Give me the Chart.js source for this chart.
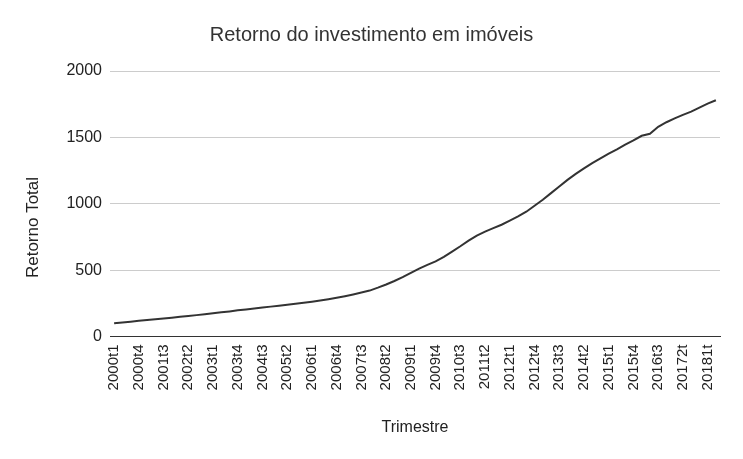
<!DOCTYPE html>
<html>
<head>
<meta charset="utf-8">
<script src="https://cdn.jsdelivr.net/npm/chart.js@4"></script>
<style>
  html, body { margin: 0; padding: 0; background: #fff; }
  #box { width: 743px; height: 459px; }
</style>
</head>
<body>
<div id="box"><canvas id="grafico"></canvas></div>
<script>
// trimestres 2000t1 .. 2018t2 (a partir de 2016t4 o rótulo vem como "AAAAqt")
var anos = [2000, 2001, 2002, 2003, 2004, 2005, 2006, 2007, 2008, 2009,
            2010, 2011, 2012, 2013, 2014, 2015, 2016, 2017, 2018];
var trimestres = [];
anos.forEach(function (a) {
  for (var q = 1; q <= 4; q++) {
    if (a === 2018 && q > 2) break;
    if (a > 2016 || (a === 2016 && q === 4)) trimestres.push(a + '' + q + 't');
    else trimestres.push(a + 't' + q);
  }
});

var retorno = [100, 106, 112, 118, 124, 130, 136, 142, 148, 154,
               161, 168, 175, 182, 189, 197, 204, 211, 218, 225,
               232, 239, 246, 254, 262, 271, 281, 292, 304, 317,
               331, 346, 368, 392, 418, 447, 480, 512, 540, 566,
               600, 640, 680, 722, 760, 790, 816, 842, 873, 905,
               940, 985, 1030, 1080, 1130, 1180, 1225, 1266, 1306, 1342,
               1377, 1410, 1445, 1477, 1512, 1527, 1580, 1614, 1643, 1670,
               1694, 1724, 1754, 1780];

var ticksY = [0, 500, 1000, 1500, 2000];

var fonte = 'Liberation Sans, Arial, sans-serif';

// título do eixo Y (o original fica um pouco abaixo do centro da área)
var tituloY = {
  id: 'tituloY',
  afterDraw: function (chart) {
    var c = chart.ctx;
    c.save();
    c.translate(33, 227.5);
    c.rotate(-Math.PI / 2);
    c.fillStyle = '#222222';
    c.font = '17px ' + fonte;
    c.textAlign = 'center';
    c.textBaseline = 'middle';
    c.fillText('Retorno Total', 0, 0);
    c.restore();
  }
};

var ctx = document.getElementById('grafico').getContext('2d');
var grafico = new Chart(ctx, {
  type: 'line',
  data: {
    labels: trimestres,
    datasets: [{
      label: 'Retorno Total',
      data: retorno,
      borderColor: '#333333',
      borderWidth: 2,
      pointRadius: 0,
      tension: 0,
      fill: false
    }]
  },
  plugins: [tituloY],
  options: {
    responsive: true,
    maintainAspectRatio: false,
    animation: false,
    layout: { padding: 0 },
    plugins: {
      legend: { display: false },
      tooltip: { enabled: false },
      title: {
        display: true,
        text: 'Retorno do investimento em imóveis',
        color: '#333333',
        font: { family: fonte, size: 20, weight: 'normal' },
        padding: { top: 23, bottom: 24 }
      }
    },
    scales: {
      x: {
        type: 'category',
        offset: true,
        afterFit: function (s) { s.height = 122.5; },
        grid: { display: false, drawTicks: false },
        border: { display: true, color: '#333333', width: 1 },
        ticks: {
          autoSkip: false,
          maxRotation: 90,
          minRotation: 90,
          padding: 8,
          color: '#222222',
          font: { family: fonte, size: 15 },
          callback: function (v, i) { return i % 3 === 0 ? this.getLabelForValue(v) : ''; }
        },
        title: {
          display: true,
          text: 'Trimestre',
          color: '#222222',
          font: { family: fonte, size: 16 },
          padding: { top: 0, bottom: 22 }
        }
      },
      y: {
        min: 0,
        max: 2000,
        afterFit: function (s) { s.width = 110; },
        afterBuildTicks: function (s) { s.ticks = ticksY.map(function (v) { return { value: v }; }); },
        grid: {
          drawTicks: false,
          color: function (c) { return c.tick && c.tick.value === 0 ? '#333333' : '#cccccc'; }
        },
        border: { display: false },
        ticks: {
          padding: 8,
          color: '#222222',
          font: { family: fonte, size: 16 },
          callback: function (v) { return String(v); }
        }
      },
      // eixo vazio à direita só para reservar a margem
      margemDir: {
        position: 'right',
        display: true,
        afterFit: function (s) { s.width = 23; },
        grid: { display: false, drawTicks: false },
        border: { display: false },
        ticks: { display: false }
      }
    }
  }
});
</script>
</body>
</html>
